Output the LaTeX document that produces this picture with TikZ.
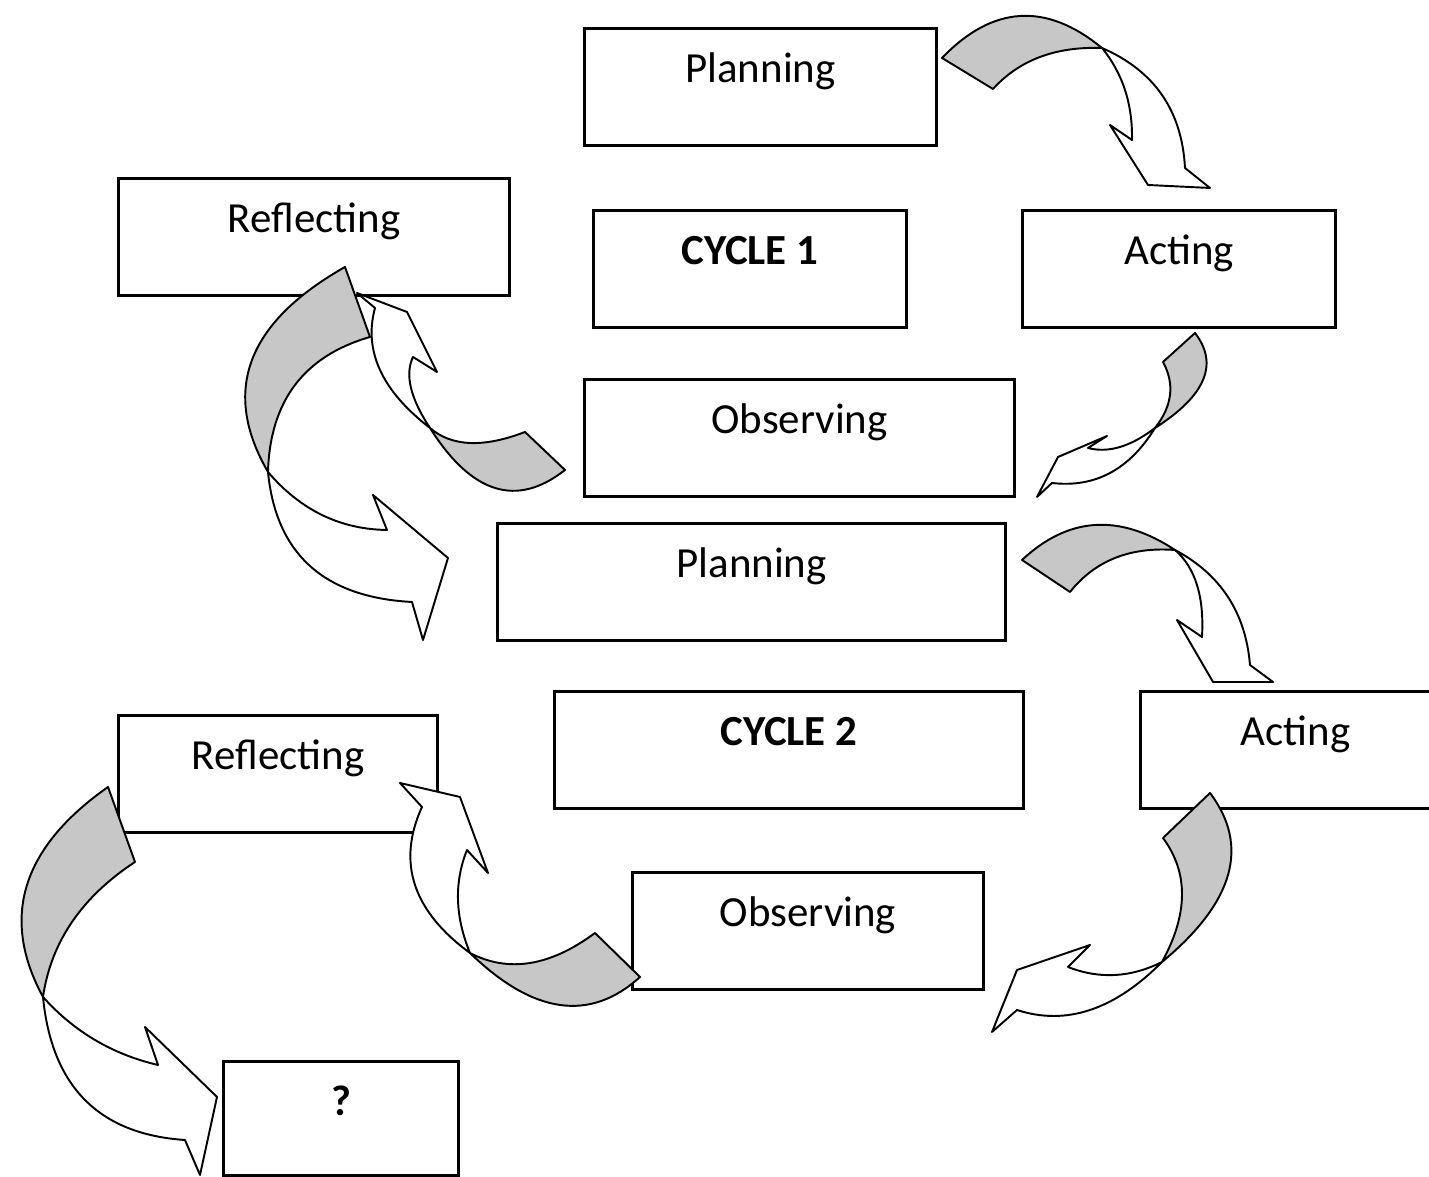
\documentclass[tikz,border=0pt]{standalone}
\usepackage{fontspec}
\setmainfont{Carlito}
\usetikzlibrary{calc}

\begin{document}
\begin{tikzpicture}[
    x=0.01cm, y=-0.01cm,
    stage/.style={rectangle, draw, line width=0.8pt, fill=white, anchor=north west, inner xsep=0pt, inner ysep=0pt, text height=0.54cm, text depth=0.63cm, font=\fontsize{12.2}{14}\selectfont},
    back/.style={draw, line width=0.55pt, line join=round, fill=black!22},
    front/.style={draw, line width=0.55pt, line join=round, fill=white},
    bow/.style={to path={.. controls ($1.3333*(#1)-0.3333*(\tikztotarget)$) and ($1.3333*(#1)-0.3333*(\tikztostart)$) .. (\tikztotarget)}}
]
\clip (0,0) rectangle (1429,1177);

% Cycle 1
\node[stage, minimum width=3.52cm] (plan1) at (583,27) {Planning};
\node[stage, minimum width=3.91cm] (refl1) at (117,177) {Reflecting};
\node[stage, minimum width=3.13cm] (cyc1) at (592,209) {\bfseries CYCLE 1};
\node[stage, minimum width=3.13cm] (act1) at (1021,209) {Acting};
\node[stage, minimum width=4.30cm] (obs1) at (583,378) {Observing};

% Cycle 2
\node[stage, minimum width=5.08cm] (plan2) at (496,522) {Planning};
\node[stage, minimum width=4.69cm] (cyc2) at (553,690) {\bfseries CYCLE 2};
\node[stage, minimum width=3.10cm] (act2) at (1139,690) {Acting};
\node[stage, minimum width=3.51cm] (obs2) at (631,871) {Observing};
\node[stage, minimum width=3.19cm] (refl2) at (117,714) {Reflecting};
\node[stage, minimum width=2.35cm, text depth=0.6cm] (next) at (222,1060) {\bfseries ?};

% Planning -> Acting
\filldraw[back] (942,58) to[bow={1020,16}] (1102,48) to[bow={1040,57}] (993,89) -- cycle;
\filldraw[front] (1102,48) to[bow={1125,90}] (1132,140) -- (1110,125) -- (1148,185) -- (1210,188) -- (1185,168) to[bow={1162,95}] (1102,48) -- cycle;

% Acting -> Observing
\filldraw[back] (1195,333) to[bow={1203,380}] (1155,428) to[bow={1170,395}] (1163,362) -- cycle;
\filldraw[front] (1155,428) to[bow={1120,447}] (1088,448) -- (1107,436) -- (1058,457) -- (1037,497) -- (1052,483) to[bow={1110,473}] (1155,428) -- cycle;

% Reflecting -> Planning (cycle 2)
\filldraw[back] (345,267) to[bow={252,360}] (268,472) to[bow={295,385}] (370,337) -- cycle;
\filldraw[front] (268,472) to[bow={322,515}] (387,530) -- (373,495) -- (448,558) -- (423,640) -- (412,602) to[bow={310,566}] (268,472) -- cycle;

% Observing -> Reflecting
\filldraw[back] (565,470) to[bow={495,488}] (430,428) to[bow={470,443}] (525,432) -- cycle;
\filldraw[front] (430,428) to[bow={411,388}] (413,357) -- (437,372) -- (407,312) -- (357,293) -- (375,308) to[bow={380,370}] (430,428) -- cycle;

% Planning -> Acting (cycle 2)
\filldraw[back] (1022,560) to[bow={1095,525}] (1175,550) to[bow={1115,558}] (1070,592) -- cycle;
\filldraw[front] (1175,550) to[bow={1197,585}] (1202,637) -- (1177,620) -- (1213,682) -- (1273,682) -- (1250,665) to[bow={1228,597}] (1175,550) -- cycle;

% Acting -> Observing (cycle 2)
\filldraw[back] (1210,793) to[bow={1228,875}] (1162,962) to[bow={1182,895}] (1163,838) -- cycle;
\filldraw[front] (1162,962) to[bow={1115,975}] (1068,967) -- (1090,945) -- (1017,970) -- (992,1032) -- (1017,1010) to[bow={1090,1010}] (1162,962) -- cycle;

% Observing -> Reflecting (cycle 2)
\filldraw[back] (640,977) to[bow={560,1005}] (470,953) to[bow={530,963}] (595,933) -- cycle;
\filldraw[front] (470,953) to[bow={458,900}] (467,850) -- (488,873) -- (460,797) -- (400,783) -- (422,807) to[bow={415,885}] (470,953) -- cycle;

% Reflecting -> ?
\filldraw[back] (108,787) to[bow={27,885}] (43,997) to[bow={72,922}] (135,862) -- cycle;
\filldraw[front] (43,997) to[bow={95,1040}] (158,1065) -- (145,1027) -- (217,1097) -- (200,1175) -- (185,1140) to[bow={85,1100}] (43,997) -- cycle;

\end{tikzpicture}
\end{document}
